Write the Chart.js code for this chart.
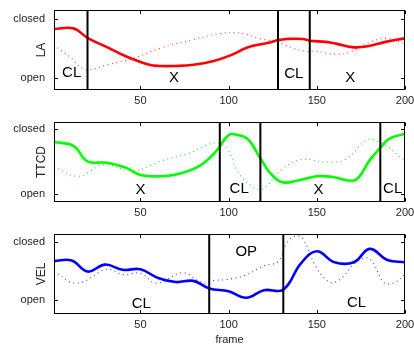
<!DOCTYPE html>
<html><head><meta charset="utf-8">
<script src="https://cdn.jsdelivr.net/npm/chart.js@4/dist/chart.umd.min.js"></script>
<style>
html,body{margin:0;padding:0;background:#fff;overflow:hidden;width:414px;height:345px;}
canvas{position:absolute;left:0;}
</style></head><body>
<canvas id="c1" width="414" height="112" style="top:0px"></canvas>
<canvas id="c2" width="414" height="112" style="top:112px"></canvas>
<canvas id="c3" width="414" height="124" style="top:224px"></canvas>
<script>
// ---- data ----
const xTicks = [50, 100, 150, 200];
const yTickValues = [0, 1];
const yTickLabels = ['open', 'closed'];

// LA
const laFrames = [1, 12, 20, 31, 42, 55, 61, 70, 80, 91, 101, 111, 122, 128, 133, 142, 146, 155, 161, 170, 178, 189, 200];
const laValues = [0.83, 0.84, 0.68, 0.52, 0.36, 0.22, 0.20, 0.20, 0.22, 0.28, 0.38, 0.52, 0.59, 0.64, 0.66, 0.66, 0.63, 0.61, 0.58, 0.52, 0.53, 0.61, 0.67];
const laDotFrames = [1, 10, 19, 31, 46, 61, 80, 95, 103, 110, 117, 128, 136, 143, 149, 162, 170, 179, 189, 198, 200];
const laDotValues = [0.56, 0.35, 0.14, 0.22, 0.33, 0.50, 0.65, 0.75, 0.77, 0.74, 0.67, 0.60, 0.51, 0.45, 0.45, 0.40, 0.45, 0.59, 0.67, 0.60, 0.58];
const laBounds = [20, 128, 146, 200];
const laLabels = ['CL', 'X', 'CL', 'X'];
const laLabelFrames = [11, 69, 137, 169];
const laLabelValues = [0.075, 0, 0.06, 0];

// TTCD
const ttFrames = [1, 12, 20, 31, 42, 50, 61, 72, 84, 93, 100, 105, 111, 118, 123, 130, 140, 150, 159, 170, 174, 180, 186, 191, 200];
const ttValues = [0.80, 0.74, 0.50, 0.48, 0.40, 0.29, 0.27, 0.31, 0.44, 0.66, 0.91, 0.91, 0.84, 0.55, 0.34, 0.18, 0.21, 0.27, 0.26, 0.20, 0.26, 0.52, 0.71, 0.85, 0.93];
const ttDotFrames = [1, 15, 29, 46, 61, 78, 93, 100, 105, 113, 119, 130, 141, 155, 166, 179, 185, 191, 198, 200];
const ttDotValues = [0.42, 0.27, 0.45, 0.35, 0.50, 0.63, 0.79, 0.66, 0.35, 0.12, 0.07, 0.37, 0.53, 0.49, 0.53, 0.84, 0.80, 0.71, 0.55, 0.53];
const ttBounds = [95, 118, 186, 200];
const ttLabels = ['X', 'CL', 'X', 'CL'];
const ttLabelFrames = [50, 106, 151, 193];
const ttLabelValues = [0.06, 0.08, 0.06, 0.08];

// VEL
const velFrames = [1, 11, 20, 30, 40, 50, 60, 70, 80, 89, 100, 110, 120, 131, 141, 150, 160, 171, 180, 190, 200];
const velValues = [0.67, 0.68, 0.49, 0.61, 0.52, 0.53, 0.38, 0.31, 0.33, 0.20, 0.15, 0.04, 0.17, 0.18, 0.63, 0.84, 0.65, 0.65, 0.88, 0.69, 0.65];
const velDotFrames = [1, 14, 31, 40, 50, 59, 74, 85, 92, 98, 109, 120, 128, 133, 138, 142, 149, 157, 163, 172, 180, 188, 194, 200];
const velDotValues = [0.49, 0.29, 0.53, 0.44, 0.46, 0.29, 0.47, 0.30, 0.34, 0.35, 0.42, 0.59, 0.66, 0.98, 1.10, 1.06, 0.60, 0.31, 0.35, 0.64, 0.71, 0.30, 0.30, 0.44];
const velBounds = [89, 131, 200];
const velLabels = ['CL', 'OP', 'CL'];
const velLabelFrames = [50.5, 110, 172.5];
const velLabelValues = [-0.06, 0.83, -0.04];

// ---- helpers ----
const FONT = '"Liberation Sans", Arial, Helvetica, sans-serif';
function pts(f, v) { return f.map((x, i) => ({x: x, y: v[i]})); }

const decor = {
  id: 'decor',
  afterDatasetsDraw(chart, args, opts) {
    const {ctx, chartArea: a, scales: {x, y}} = chart;
    ctx.save();
    ctx.strokeStyle = '#000'; ctx.lineWidth = 1;
    const L = Math.round(a.left) + 0.5, R = Math.round(a.right) - 0.5;
    const T = Math.round(a.top) + 0.5, B = Math.round(a.bottom) - 0.5;
    ctx.strokeRect(L, T, R - L, B - T);
    ctx.beginPath();
    xTicks.forEach(v => {
      const px = Math.round(x.getPixelForValue(v)) + 0.5;
      ctx.moveTo(px, T); ctx.lineTo(px, T + 3.5);
      ctx.moveTo(px, B); ctx.lineTo(px, B - 3.5);
    });
    yTickValues.forEach(v => {
      const py = Math.round(y.getPixelForValue(v)) + 0.5;
      ctx.moveTo(L, py); ctx.lineTo(L + 3.5, py);
      ctx.moveTo(R, py); ctx.lineTo(R - 3.5, py);
    });
    ctx.stroke();
    ctx.fillStyle = '#000';
    ctx.font = '15px ' + FONT;
    ctx.textAlign = 'center'; ctx.textBaseline = 'middle';
    opts.labels.forEach((t, i) => ctx.fillText(t, x.getPixelForValue(opts.lx[i]), y.getPixelForValue(opts.ly[i])));
    ctx.restore();
  }
};

function makePanel(id, p) {
  const canvas = document.getElementById(id);
  const H = canvas.height;
  const datasets = [];
  p.bounds.forEach(b => datasets.push({
    data: [{x: b, y: p.ymin}, {x: b, y: p.ymax}],
    borderColor: '#000', borderWidth: 2, pointRadius: 0, tension: 0
  }));
  datasets.push({data: pts(p.frames, p.values), borderColor: p.color, borderWidth: 2.6, pointRadius: 0, tension: 0.4});
  datasets.push({data: pts(p.dotFrames, p.dotValues), borderColor: p.dotColor, borderWidth: 1.2, borderDash: [1, 3.5], pointRadius: 0, tension: 0.4});
  new Chart(canvas, {
    type: 'line',
    data: {datasets: datasets},
    options: {
      responsive: false, animation: false, events: [],
      layout: {padding: {left: 0, top: 10, right: 9, bottom: 0}},
      plugins: {legend: {display: false}, tooltip: {enabled: false},
        decor: {labels: p.labels, lx: p.lx, ly: p.ly}},
      scales: {
        x: {
          type: 'linear', min: 1, max: 200,
          grid: {display: false, drawTicks: false}, border: {display: false},
          ticks: {autoSkip: false, maxRotation: 0, padding: 4, color: '#222', font: {family: FONT, size: 11}},
          afterBuildTicks: s => { s.ticks = xTicks.map(v => ({value: v})); },
          afterFit: s => { s.height = H - 90; s.paddingLeft = 0; s.paddingRight = 0; },
          title: {display: !!p.xTitle, text: p.xTitle || '', color: '#222', font: {family: FONT, size: 11}, padding: {top: 0, bottom: 1.4}}
        },
        y: {
          type: 'linear', min: p.ymin, max: p.ymax,
          grid: {display: false, drawTicks: false}, border: {display: false},
          ticks: {padding: 9, color: '#222', font: {family: FONT, size: 11},
            callback: v => { const i = yTickValues.indexOf(v); return i >= 0 ? yTickLabels[i] : ''; }},
          afterBuildTicks: s => { s.ticks = yTickValues.map(v => ({value: v})); },
          afterFit: s => { s.width = 54; s.paddingTop = 0; s.paddingBottom = 0; },
          title: {display: true, text: p.title, color: '#222', font: {family: FONT, size: 12}, padding: {top: 34.5, bottom: 0}}
        }
      }
    },
    plugins: [decor]
  });
}

makePanel('c1', {title: 'LA', color: '#ff0000', dotColor: 'rgba(255,0,0,0.7)', ymin: -0.21, ymax: 1.153,
  frames: laFrames, values: laValues, dotFrames: laDotFrames, dotValues: laDotValues, bounds: laBounds,
  labels: laLabels, lx: laLabelFrames, ly: laLabelValues});
makePanel('c2', {title: 'TTCD', color: '#00ff00', dotColor: 'rgba(0,220,0,0.8)', ymin: -0.128, ymax: 1.11,
  frames: ttFrames, values: ttValues, dotFrames: ttDotFrames, dotValues: ttDotValues, bounds: ttBounds,
  labels: ttLabels, lx: ttLabelFrames, ly: ttLabelValues});
makePanel('c3', {title: 'VEL', color: '#0000ff', dotColor: 'rgba(0,0,255,0.7)', ymin: -0.24, ymax: 1.136, xTitle: 'frame',
  frames: velFrames, values: velValues, dotFrames: velDotFrames, dotValues: velDotValues, bounds: velBounds,
  labels: velLabels, lx: velLabelFrames, ly: velLabelValues});
</script>
</body></html>
